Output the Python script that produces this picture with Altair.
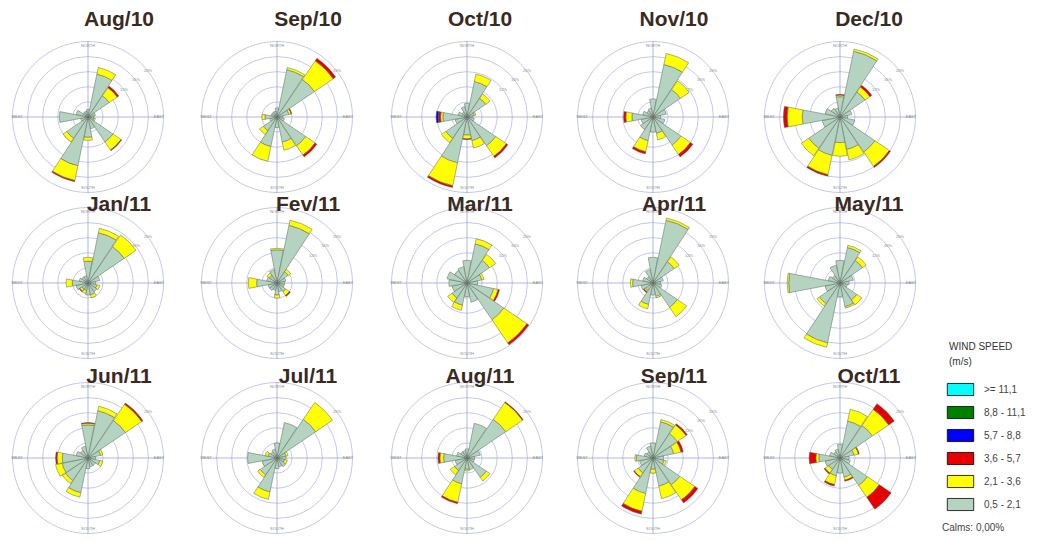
import math
import altair as alt
import pandas as pd

months = ["Aug/10", "Sep/10", "Oct/10", "Nov/10", "Dec/10",
          "Jan/11", "Fev/11", "Mar/11", "Apr/11", "May/11",
          "Jun/11", "Jul/11", "Aug/11", "Sep/11", "Oct/11"]
directions = ["N", "NNE", "NE", "ENE", "E", "ESE", "SE", "SSE",
              "S", "SSW", "SW", "WSW", "W", "WNW", "NW", "NNW"]
speed_classes = [">= 11,1", "8,8 - 11,1", "5,7 - 8,8", "3,6 - 5,7", "2,1 - 3,6", "0,5 - 2,1"]
class_colors = ["#00ffff", "#008000", "#0000ff", "#e60000", "#ffff00", "#b4d3c1"]
compass_labels = ["NORTH", "EAST", "SOUTH", "WEST"]
ring_levels = [4, 8, 12, 16, 20]
ring_labels = ["4%", "8%", "12%", "16%", "20%"]
calms_text = "Calms: 0,00%"

# frequency (%) per direction, speed class 0,5 - 2,1 m/s
freq_05_21 = {
    "Aug/10": [2.0, 11.6, 6.8, 2.0, 1.6, 1.6, 8.0, 3.2, 5.4, 13.2, 6.8, 2.0, 7.6, 3.2, 1.6, 1.6],
    "Sep/10": [2.4, 12.8, 12.0, 3.2, 1.6, 2.0, 9.2, 6.8, 2.8, 8.0, 4.4, 2.0, 3.2, 1.6, 1.6, 1.6],
    "Oct/10": [3.6, 9.6, 6.0, 2.0, 1.6, 2.0, 9.2, 6.4, 4.8, 12.4, 6.8, 3.2, 6.4, 2.4, 1.6, 2.8],
    "Nov/10": [4.8, 14.2, 8.8, 3.6, 2.0, 3.2, 9.0, 4.4, 4.0, 6.4, 4.0, 3.2, 5.6, 2.8, 2.0, 2.4],
    "Dec/10": [5.4, 17.8, 8.0, 3.2, 2.0, 4.0, 11.2, 8.8, 6.8, 10.4, 10.0, 4.8, 10.0, 4.0, 2.8, 2.4],
    "Jan/11": [5.8, 13.6, 11.6, 3.2, 2.0, 2.4, 2.8, 3.2, 3.2, 2.0, 2.0, 3.2, 4.2, 2.4, 2.0, 2.0],
    "Fev/11": [8.8, 15.6, 3.6, 2.4, 2.0, 2.0, 2.8, 2.4, 3.2, 2.0, 2.4, 2.4, 5.4, 2.8, 2.4, 3.6],
    "Mar/11": [6.0, 10.6, 7.2, 4.0, 2.8, 7.2, 11.8, 5.2, 3.6, 6.0, 4.8, 4.0, 4.8, 5.4, 4.0, 4.4],
    "Apr/11": [6.8, 17.0, 6.8, 2.8, 2.0, 2.4, 7.8, 3.6, 3.2, 5.8, 2.4, 3.2, 5.4, 2.8, 2.0, 3.6],
    "May/11": [6.0, 9.6, 7.2, 3.6, 2.4, 2.0, 5.4, 6.4, 3.6, 16.2, 6.6, 4.0, 13.6, 3.2, 2.4, 4.8],
    "Jun/11": [8.8, 12.8, 12.0, 3.4, 2.0, 3.2, 2.4, 2.4, 2.8, 9.4, 7.2, 7.0, 6.8, 3.2, 2.4, 3.2],
    "Jul/11": [4.0, 9.6, 12.4, 2.4, 2.4, 2.0, 2.8, 2.4, 2.8, 9.2, 5.4, 4.0, 7.8, 2.4, 2.0, 2.4],
    "Aug/11": [2.4, 9.4, 12.4, 3.6, 2.0, 2.0, 6.2, 3.2, 3.0, 7.0, 4.0, 3.2, 6.2, 2.8, 2.0, 2.0],
    "Sep/11": [4.0, 9.8, 7.8, 5.6, 2.8, 3.0, 8.6, 7.6, 3.0, 9.6, 4.8, 3.6, 4.4, 2.4, 2.0, 3.2],
    "Oct/11": [3.6, 10.0, 10.4, 3.8, 2.4, 2.8, 8.8, 5.2, 4.0, 4.8, 3.6, 4.0, 5.6, 2.8, 2.0, 2.4],
}
# speed class 2,1 - 3,6 m/s
freq_21_36 = {
    "Aug/10": [0, 1.8, 2.6, 0, 0, 0.4, 2.6, 0, 0.8, 4.0, 1.2, 0, 0, 0, 0, 0],
    "Sep/10": [0, 0.6, 6.0, 0.6, 0, 0, 3.0, 2.2, 0, 4.0, 1.2, 0, 0.8, 0, 0, 0],
    "Oct/10": [0, 2.0, 1.4, 0.4, 0, 0, 3.4, 2.0, 1.0, 6.2, 1.4, 0, 0.6, 0, 0, 0],
    "Nov/10": [0, 3.0, 2.8, 0, 0, 0, 3.0, 1.8, 0, 3.0, 0, 0, 1.6, 0, 0, 0],
    "Dec/10": [0.4, 0.6, 1.6, 0, 0, 0, 4.6, 2.8, 3.6, 5.2, 2.4, 0, 4.0, 0, 0, 0],
    "Jan/11": [1.0, 1.2, 3.8, 0, 0, 0.8, 0, 0.8, 0, 0.8, 0.6, 0, 1.6, 0, 0, 0],
    "Fev/11": [0.4, 1.4, 0.8, 0, 0, 0, 1.2, 0, 0.8, 0, 0, 0, 2.2, 0, 0.8, 0],
    "Mar/11": [0, 1.4, 2.0, 0.6, 0, 1.2, 7.4, 0, 0, 1.4, 1.4, 0, 0, 0, 0, 0],
    "Apr/11": [0, 0.6, 1.6, 0, 0, 0, 3.0, 0.4, 0, 1.2, 0.4, 0, 0.6, 0, 0, 0],
    "May/11": [0, 0.6, 1.2, 0, 0, 0, 1.6, 0.4, 0, 1.2, 0.8, 0, 0.4, 0, 0, 0],
    "Jun/11": [0.4, 1.2, 5.2, 0.6, 0, 0.8, 0, 0, 0, 1.2, 1.0, 1.8, 1.4, 0, 0, 0],
    "Jul/11": [0, 0, 5.4, 0.6, 0, 0.8, 0, 0, 0, 2.0, 0.8, 0, 0, 0.8, 0, 0],
    "Aug/11": [0, 0, 5.4, 0, 0, 0, 1.2, 0, 0.4, 5.0, 1.4, 0, 1.0, 0, 0, 0],
    "Sep/11": [0, 0.6, 2.8, 2.0, 0, 0.6, 4.8, 3.4, 1.0, 4.8, 1.2, 0, 0.4, 0, 0, 0],
    "Oct/11": [0, 3.2, 5.2, 1.2, 0, 0, 3.8, 0.8, 0, 2.4, 1.2, 0, 0.8, 0, 0, 0],
}
# speed class 3,6 - 5,7 m/s
freq_36_57 = {
    "Aug/10": [0, 0, 0.5, 0, 0, 0, 0.2, 0, 0, 0.3, 0, 0, 0, 0, 0, 0],
    "Sep/10": [0, 0, 0.8, 0.2, 0, 0, 0.6, 0, 0, 0, 0, 0, 0, 0, 0, 0],
    "Oct/10": [0, 0, 0, 0, 0, 0, 0.5, 0, 0.2, 0.5, 0, 0, 0.6, 0, 0, 0],
    "Nov/10": [0, 0, 0, 0, 0, 0, 0.8, 0, 0, 0.6, 0, 0, 0.6, 0, 0, 0],
    "Dec/10": [0.2, 0, 0.6, 0, 0, 0, 0.4, 0, 0, 0.4, 0, 0, 1.0, 0, 0, 0],
    "Jan/11": [0, 0, 0, 0, 0, 0, 0, 0, 0, 0, 0.2, 0, 0, 0, 0, 0],
    "Fev/11": [0, 0, 0, 0, 0, 0, 0.3, 0, 0, 0, 0, 0, 0, 0, 0, 0],
    "Mar/11": [0, 0, 0, 0, 0, 0.4, 0.6, 0, 0, 0, 0, 0, 0, 0, 0, 0],
    "Apr/11": [0, 0, 0, 0, 0, 0, 0, 0, 0, 0, 0.3, 0, 0, 0, 0, 0],
    "Jun/11": [0.2, 0, 0.4, 0, 0, 0, 0, 0, 0, 0, 0, 0, 0.4, 0, 0, 0],
    "Aug/11": [0, 0, 0.2, 0, 0, 0, 0, 0, 0, 0.4, 0, 0, 0.5, 0, 0, 0],
    "Sep/11": [0, 0, 0.4, 0.6, 0, 0, 1.0, 0, 0, 0.8, 0.2, 0, 0, 0, 0, 0],
    "Oct/11": [0, 0, 1.8, 0.2, 0, 0, 3.8, 0.3, 0, 0.4, 0.3, 0, 1.8, 0, 0, 0],
}
# speed class 5,7 - 8,8 m/s
freq_57_88 = {
    "Oct/10": [0, 0, 0, 0, 0, 0, 0, 0, 0, 0, 0, 0, 0.6, 0, 0, 0],
}

# ---- build tables ----
panels = pd.DataFrame({
    "month": months,
    "col": [i % 5 for i in range(len(months))],
    "row": [i // 5 for i in range(len(months))],
})
sources = [(speed_classes[5], freq_05_21), (speed_classes[4], freq_21_36),
           (speed_classes[3], freq_36_57), (speed_classes[2], freq_57_88)]
recs = []
for m in months:
    for order, (cls, src) in enumerate(sources):
        vals = src.get(m)
        if vals is None:
            continue
        for k, v in enumerate(vals):
            if v > 0:
                recs.append({"month": m, "k": k, "dir": directions[k], "cls": cls, "ord": order, "value": v})
petals = pd.DataFrame(recs).merge(panels, on="month")
rings = panels.merge(pd.DataFrame({"r": ring_levels, "lab": ring_labels}), how="cross")

# ---- scales ----
x_scale = alt.Scale(domain=[0, 1, 2, 3, 4], range=[80, 269, 459, 645, 832], nice=False, zero=False)
y_scale = alt.Scale(domain=[0, 1, 2], range=[109, 275, 450], nice=False, zero=False)
tx_scale = alt.Scale(domain=[0, 1, 2, 3, 4], range=[111, 300, 472, 666, 861], nice=False, zero=False)
ty_scale = alt.Scale(domain=[0, 1, 2], range=[12, 197, 369], nice=False, zero=False)
r_scale = alt.Scale(type="linear", domain=[0, 20], range=[0, 75.5], zero=True, nice=False)
th_scale = alt.Scale(domain=[0, 360], range=[0, 2 * math.pi], nice=False, zero=False)


def X():
    return alt.X("col:Q", scale=x_scale, axis=None)


def Y():
    return alt.Y("row:Q", scale=y_scale, axis=None)


FONT = "Liberation Sans"
ring_color = "#bcc3e4"
axis_color = "#9aa4d8"

ring_layer = alt.Chart(rings).transform_calculate(
    t0="0", t1="360", z="0"
).mark_arc(fill="#ffffff", fillOpacity=0, stroke=ring_color, strokeWidth=0.9).encode(
    x=X(), y=Y(),
    theta=alt.Theta("t0:Q", scale=th_scale, stack=None), theta2="t1:Q",
    radius=alt.Radius("r:Q", scale=r_scale), radius2="z:Q",
    detail="month:N",
)

hline = alt.Chart(panels).mark_rule(color=axis_color, strokeWidth=0.8, xOffset=-76, x2Offset=76).encode(
    x=X(), x2=alt.X2("col:Q"), y=Y()
)
vline = alt.Chart(panels).mark_rule(color=axis_color, strokeWidth=0.8, yOffset=-76, y2Offset=76).encode(
    x=X(), y=Y(), y2=alt.Y2("row:Q")
)

compass_layers = []
for lab, ang in zip(compass_labels, [0, 0.5 * math.pi, math.pi, 1.5 * math.pi]):
    compass_layers.append(
        alt.Chart(panels).mark_text(fontSize=4, color="#8a8a8a", font=FONT, baseline="middle", align="center").encode(
            x=X(), y=Y(), theta=alt.value(ang), radius=alt.value(71), text=alt.value(lab)
        )
    )

ring_text = alt.Chart(rings).transform_filter("datum.r >= 12").mark_text(
    fontSize=4, color="#8a8a8a", font=FONT, baseline="middle", align="center"
).encode(
    x=X(), y=Y(), theta=alt.value(0.92), radius=alt.Radius("r:Q", scale=r_scale), text="lab:N"
)

petal_layer = alt.Chart(petals).transform_stack(
    stack="value", groupby=["month", "k"], as_=["r0", "r1"],
    sort=[alt.SortField("ord", order="ascending")]
).transform_calculate(
    t0="datum.k * 22.5 - 10.8", t1="datum.k * 22.5 + 10.8"
).mark_arc(stroke="#5a665c", strokeWidth=0.5).encode(
    x=X(), y=Y(),
    theta=alt.Theta("t0:Q", scale=th_scale, stack=None), theta2="t1:Q",
    radius=alt.Radius("r1:Q", scale=r_scale), radius2="r0:Q",
    color=alt.Color(
        "cls:N",
        scale=alt.Scale(domain=speed_classes, range=class_colors),
        legend=alt.Legend(
            title=["WIND SPEED", "(m/s)"], orient="none", legendX=941, legendY=334,
            symbolType="M-1.2,-0.55H1.2V0.55H-1.2Z", symbolSize=484,
            symbolStrokeColor="#000000", symbolStrokeWidth=0.8, symbolOpacity=1,
            labelFont=FONT, labelFontSize=10, labelColor="#444444", labelOffset=12,
            titleFont=FONT, titleFontSize=10, titleFontWeight="normal", titleColor="#333333",
            titleLineHeight=15, titlePadding=11, rowPadding=3, padding=0,
        ),
    ),
)

calm_dot = alt.Chart(panels).mark_point(shape="circle", size=28, filled=False, color="#777777", strokeWidth=0.6).encode(
    x=X(), y=Y()
)

title_layer = alt.Chart(panels).mark_text(
    font=FONT, fontSize=21, fontWeight="bold", color="#3a2a1f", baseline="middle", align="center"
).encode(
    x=alt.X("col:Q", scale=tx_scale, axis=None),
    y=alt.Y("row:Q", scale=ty_scale, axis=None),
    text="month:N",
)

calms_layer = alt.Chart(pd.DataFrame({"t": [calms_text]})).mark_text(
    font=FONT, fontSize=10, color="#444444", align="left", baseline="middle"
).encode(x=alt.value(934), y=alt.value(520), text="t:N")

chart = alt.layer(
    ring_layer, hline, vline, *compass_layers, ring_text, petal_layer, calm_dot, title_layer, calms_layer
).resolve_scale(
    x="independent", y="independent"
).properties(
    width=1030, height=526, autosize=alt.AutoSizeParams(type="none"), padding=0, background="white"
).configure_view(strokeWidth=0)

chart.save("out.html", embed_options={"renderer": "svg", "actions": False})
